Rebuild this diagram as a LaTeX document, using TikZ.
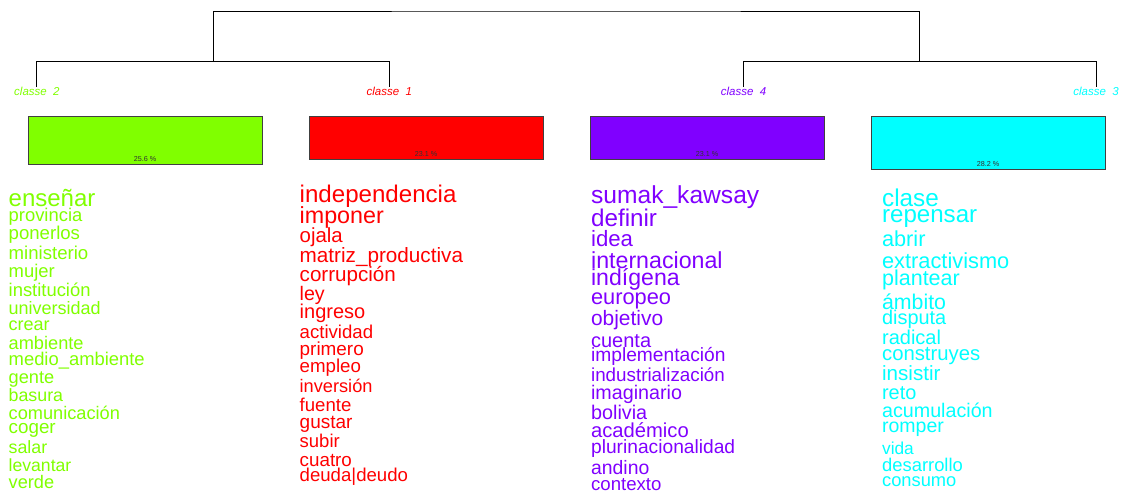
\documentclass[tikz,border=0pt]{standalone}
\usepackage{fontspec}
\setmainfont{Liberation Sans}
\usepackage{xcolor}
\usepackage{tikz}
\usetikzlibrary{positioning}
\definecolor{clgreen}{RGB}{128,255,0}
\definecolor{clred}{RGB}{255,0,0}
\definecolor{clpurple}{RGB}{128,0,255}
\definecolor{clcyan}{RGB}{0,255,255}

\begin{document}
\begin{tikzpicture}[x=0.5pt, y=-0.5pt,
    every node/.style={inner sep=0pt},
    tree/.style = {line width=0.5pt, black},
    clabel/.style = {anchor=mid, font=\fontsize{5.75}{6}\selectfont\itshape},
    cbox/.style = {rectangle, draw=black!75, line width=0.5pt,
                   anchor=north, minimum width=117pt},
    pct/.style = {font=\fontsize{3.6}{4}\selectfont, text=black!80},
    mot/.style = {anchor=mid west, yshift=-0.75pt, font=\fontsize{#1}{#1}\selectfont}
]
\useasboundingbox (0,0) rectangle (1122,493);
\clip (0,0) rectangle (1122,493);

% class labels
\node (c2) [clabel, text=clgreen]  at (36.9,90.5)  {classe\ \ 2};
\node (c1) [clabel, text=clred]    at (389.3,90.5) {classe\ \ 1};
\node (c4) [clabel, text=clpurple] at (743.5,90.5) {classe\ \ 4};
\node (c3) [clabel, text=clcyan]   at (1096,90.5)  {classe\ \ 3};

% dendrogram
\coordinate (m21) at (213,61.3);
\coordinate (m43) at (919.5,61.3);
\coordinate (root) at (566,11);
\draw[tree] (c2.north) |- (m21) -| (c1.north);
\draw[tree] (c4.north) |- (m43) -| (c3.north);
\draw[tree] (m21) |- (root) -| (m43);

% boxes
\node (b2) [cbox, fill=clgreen,  minimum height=24.15pt] at (145,115.7) {};
\node (b1) [cbox, fill=clred,    minimum height=21.65pt] at (426,115.7) {};
\node (b4) [cbox, fill=clpurple, minimum height=21.65pt] at (707,115.7) {};
\node (b3) [cbox, fill=clcyan,   minimum height=26.65pt] at (988,115.7) {};
\node (p2) [pct, above=1.6pt of b2.south] {25.6 \%};
\node (p1) [pct, above=1.6pt of b1.south] {23.1 \%};
\node (p4) [pct, above=1.6pt of b4.south] {23.1 \%};
\node (p3) [pct, above=1.6pt of b3.south] {28.2 \%};

% words of each class
\foreach \y/\s/\w [count=\i] in {200/12/enseñar, 215/9.2/provincia,
    233/9.3/ponerlos, 252.7/9.3/ministerio, 270.7/9.2/mujer,
    290/9.2/institución, 307.7/9/universidad, 324/9/crear,
    343/9.1/ambiente, 359/9.2/medio\_ambiente, 376.7/9.1/gente,
    395/8.9/basura, 412.7/9.1/comunicación, 426.7/9.4/coger,
    446.7/8.9/salar, 465/8.8/levantar, 481.7/9.1/verde}
  \node (g\i) [mot=\s, text=clgreen] at (8.3,\y) {\w};

\foreach \y/\s/\w [count=\i] in {196/12.05/independencia, 216.7/11.65/imponer,
    236/10.2/ojala, 256/10.35/matriz\_productiva, 275/10.3/corrupción,
    293.3/9.8/ley, 311.7/10/ingreso, 331.7/9.3/actividad,
    348.3/9.45/primero, 366/9.35/empleo, 386/9.1/inversión,
    404.3/9.3/fuente, 421.7/9.5/gustar, 440.7/9.25/subir,
    459.3/9.4/cuatro, 475/9.3/deuda\textbar deudo}
  \node (r\i) [mot=\s, text=clred] at (299.3,\y) {\w};

\foreach \y/\s/\w [count=\i] in {196.7/12.3/sumak\_kawsay, 220/12.1/definir,
    239.3/11.1/idea, 261.7/11.6/internacional, 278.3/11.55/indígena,
    297.3/10.9/europeo, 318.3/10.45/objetivo, 340.7/10/cuenta,
    355/9.6/implementación, 375/9.4/industrialización,
    392.7/9.85/imaginario, 412.7/9.9/bolivia, 430.7/10.1/académico,
    446.7/9.6/plurinacionalidad, 467.3/9.7/andino, 484/9.3/contexto}
  \node (v\i) [mot=\s, text=clpurple] at (590.7,\y) {\w};

\foreach \y/\s/\w [count=\i] in {199.3/12.15/clase, 216/12.05/repensar,
    240/10.85/abrir, 261.7/10.9/extractivismo, 278.3/10.75/plantear,
    302.7/10.65/ámbito, 317.3/9.95/disputa, 337.3/10/radical,
    354/10.15/construyes, 374/10.3/insistir, 392.7/9.95/reto,
    410.7/9.85/acumulación, 425.7/9.75/romper, 447.3/8.65/vida,
    465/9.2/desarrollo, 479.3/9.15/consumo}
  \node (k\i) [mot=\s, text=clcyan] at (881.7,\y) {\w};

\end{tikzpicture}
\end{document}
